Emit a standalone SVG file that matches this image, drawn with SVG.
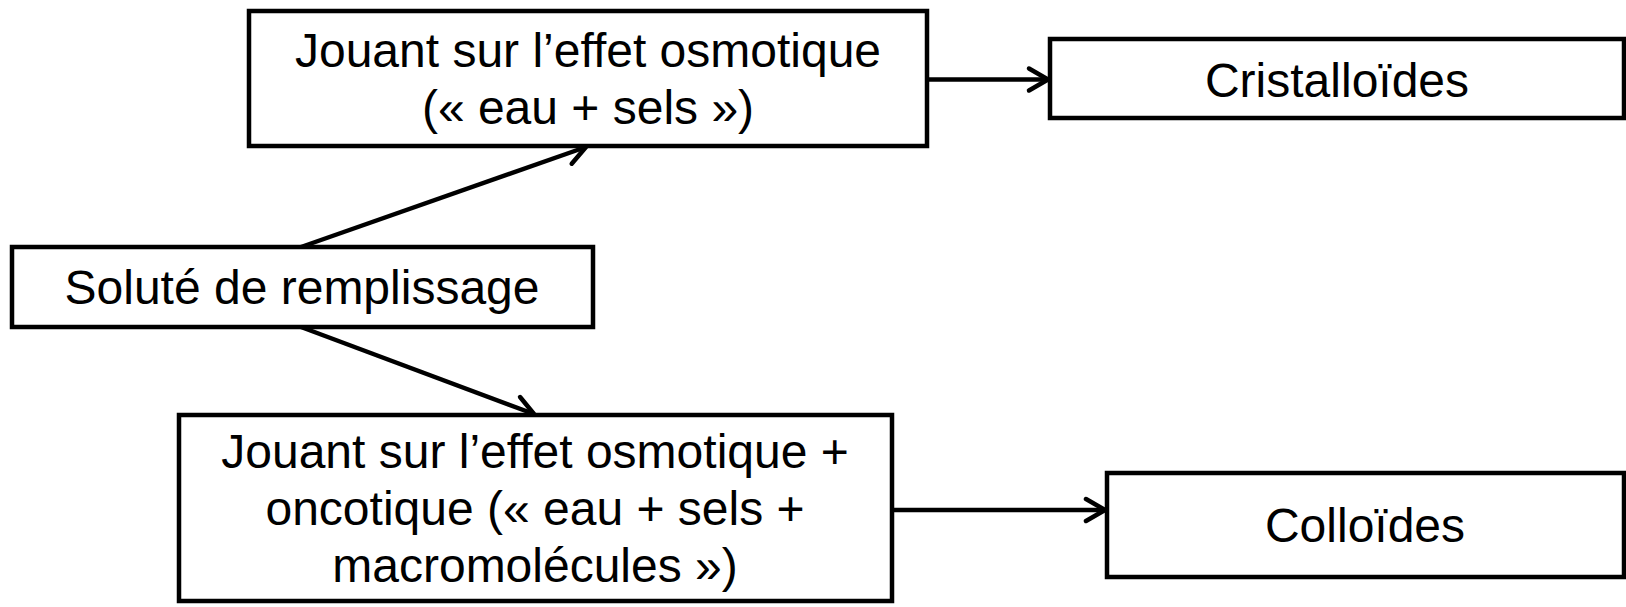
<svg xmlns="http://www.w3.org/2000/svg" width="1626" height="607" viewBox="0 0 1626 607">
  <defs>
    <marker id="arrow" viewBox="0 0 30 30" refX="24" refY="15" markerWidth="30" markerHeight="30" markerUnits="userSpaceOnUse" orient="auto">
      <path d="M5,4 L24,15 L5,26" fill="none" stroke="#000" stroke-width="4.5" stroke-linecap="round" stroke-linejoin="round"/>
    </marker>
  </defs>
  <style>
    .box { fill: #fff; stroke: #000; stroke-width: 4.5; }
    .lbl { font-family: "Liberation Sans", Arial, sans-serif; font-size: 48px; fill: #000; text-anchor: middle; }
    .link { fill: none; stroke: #000; stroke-width: 4.5; marker-end: url(#arrow); }
  </style>
  <rect width="1626" height="607" fill="#fff"/>

  <g id="connectors">
    <line class="link" x1="301" y1="247" x2="586" y2="147"/>
    <line class="link" x1="301" y1="327" x2="534" y2="414"/>
    <line class="link" x1="927" y1="79.5" x2="1048" y2="79.5"/>
    <line class="link" x1="892" y1="510" x2="1105" y2="510"/>
  </g>

  <g id="node-osmotique">
    <rect class="box" x="249" y="11" width="678" height="135"/>
    <text class="lbl" x="588" y="67">Jouant sur l’effet osmotique</text>
    <text class="lbl" x="588" y="124">(« eau + sels »)</text>
  </g>

  <g id="node-cristalloides">
    <rect class="box" x="1050" y="39" width="574" height="79"/>
    <text class="lbl" x="1337" y="97">Cristalloïdes</text>
  </g>

  <g id="node-solute">
    <rect class="box" x="12" y="247" width="581" height="80"/>
    <text class="lbl" x="302" y="304">Soluté de remplissage</text>
  </g>

  <g id="node-oncotique">
    <rect class="box" x="179" y="415" width="713" height="186"/>
    <text class="lbl" x="535" y="468">Jouant sur l’effet osmotique +</text>
    <text class="lbl" x="535" y="525">oncotique (« eau + sels +</text>
    <text class="lbl" x="535" y="582">macromolécules »)</text>
  </g>

  <g id="node-colloides">
    <rect class="box" x="1107" y="473" width="517" height="104"/>
    <text class="lbl" x="1365" y="542">Colloïdes</text>
  </g>
</svg>
